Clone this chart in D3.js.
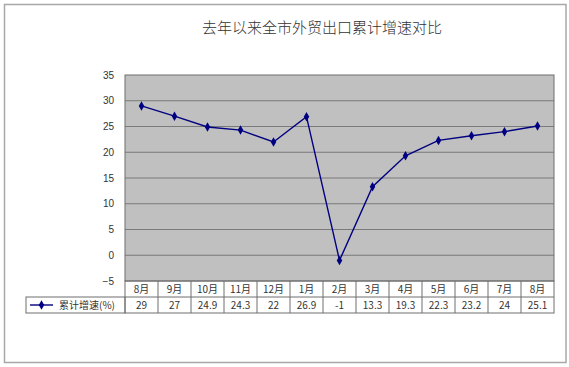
<!DOCTYPE html>
<html><head><meta charset="utf-8">
<script src="https://cdn.jsdelivr.net/npm/d3@7"></script>
<style>body{margin:0;background:#fff}</style>
</head><body>
<svg id="c" width="569" height="367"></svg>
<script>
const title = "去年以来全市外贸出口累计增速对比";
const seriesName = "累计增速(%)";
const months = ["8月","9月","10月","11月","12月","1月","2月","3月","4月","5月","6月","7月","8月"];
const values = [29, 27, 24.9, 24.3, 22, 26.9, -1, 13.3, 19.3, 22.3, 23.2, 24, 25.1];
const yTicks = [-5, 0, 5, 10, 15, 20, 25, 30, 35];

const svg = d3.select("#c");
const L = 125, R = 554, T = 75, B = 281;
const rowH = 16;
const cjk = "'Noto Sans CJK SC', sans-serif";

// outer frame
svg.append("rect").attr("x", 4.5).attr("y", 4.5).attr("width", 561.5).attr("height", 358)
  .attr("fill", "#fff").attr("stroke", "#a8a8a8").attr("stroke-width", 1.5);

svg.append("text").attr("x", 322).attr("y", 33).attr("text-anchor", "middle")
  .attr("font-family", cjk).attr("font-size", 15).attr("font-weight", 300).attr("fill", "#333").text(title);

const x = d3.scaleBand().domain(d3.range(months.length)).range([L, R]);
const y = d3.scaleLinear().domain([-5, 35]).range([B, T]);

svg.append("rect").attr("x", L).attr("y", T).attr("width", R - L).attr("height", B - T).attr("fill", "#c0c0c0");

svg.append("g").selectAll("line").data(yTicks.slice(1, -1)).join("line")
  .attr("x1", L).attr("x2", R).attr("y1", d => y(d)).attr("y2", d => y(d))
  .attr("stroke", "#7a7a7a").attr("stroke-width", 1);

svg.append("rect").attr("x", L).attr("y", T).attr("width", R - L).attr("height", B - T)
  .attr("fill", "none").attr("stroke", "#6e6e6e").attr("stroke-width", 1);

const yAxis = svg.append("g").attr("transform", `translate(${L},0)`)
  .call(d3.axisLeft(y).tickValues(yTicks).tickSize(0).tickPadding(11).tickFormat(d3.format("d")));
yAxis.select(".domain").remove();
yAxis.selectAll("text").attr("font-family", "'Liberation Sans', Arial, sans-serif").attr("font-size", 10).attr("fill", "#333");

// line + markers
const line = d3.line().x((d, i) => x(i) + x.bandwidth() / 2).y(d => y(d));
svg.append("path").datum(values).attr("d", line).attr("fill", "none")
  .attr("stroke", "#000080").attr("stroke-width", 1.4);
const diamond = d3.symbol().type(d3.symbolDiamond).size(26);
svg.append("g").selectAll("path").data(values).join("path")
  .attr("transform", (d, i) => `translate(${x(i) + x.bandwidth() / 2},${y(d)})`)
  .attr("d", diamond).attr("fill", "#000080");

// data table
const tb = svg.append("g");
const LL = 26;
tb.append("rect").attr("x", L).attr("y", B).attr("width", R - L).attr("height", rowH * 2)
  .attr("fill", "none").attr("stroke", "#6e6e6e");
tb.append("rect").attr("x", LL).attr("y", B + rowH).attr("width", L - LL).attr("height", rowH)
  .attr("fill", "none").attr("stroke", "#6e6e6e");
tb.append("line").attr("x1", L).attr("x2", R).attr("y1", B + rowH).attr("y2", B + rowH).attr("stroke", "#6e6e6e");
tb.selectAll("line.v").data(d3.range(1, months.length)).join("line").attr("class", "v")
  .attr("x1", i => x(i)).attr("x2", i => x(i)).attr("y1", B).attr("y2", B + rowH * 2)
  .attr("stroke", "#6e6e6e");
tb.selectAll("text.m").data(months).join("text").attr("class", "m")
  .attr("x", (d, i) => x(i) + x.bandwidth() / 2).attr("y", B + 12).attr("text-anchor", "middle")
  .attr("font-family", cjk).attr("font-size", 10).attr("fill", "#333").text(d => d);
tb.selectAll("text.v").data(values).join("text").attr("class", "v")
  .attr("x", (d, i) => x(i) + x.bandwidth() / 2).attr("y", B + rowH + 12).attr("text-anchor", "middle")
  .attr("font-family", cjk).attr("font-size", 10).attr("fill", "#333").text(d => d);
// legend key
tb.append("line").attr("x1", 30).attr("x2", 53).attr("y1", B + rowH * 1.5).attr("y2", B + rowH * 1.5)
  .attr("stroke", "#000080").attr("stroke-width", 1.4);
tb.append("path").attr("transform", `translate(41.5,${B + rowH * 1.5})`).attr("d", diamond).attr("fill", "#000080");
tb.append("text").attr("x", 59).attr("y", B + rowH + 12).attr("font-family", cjk).attr("font-size", 10)
  .attr("fill", "#333").text(seriesName);
</script>
</body></html>
